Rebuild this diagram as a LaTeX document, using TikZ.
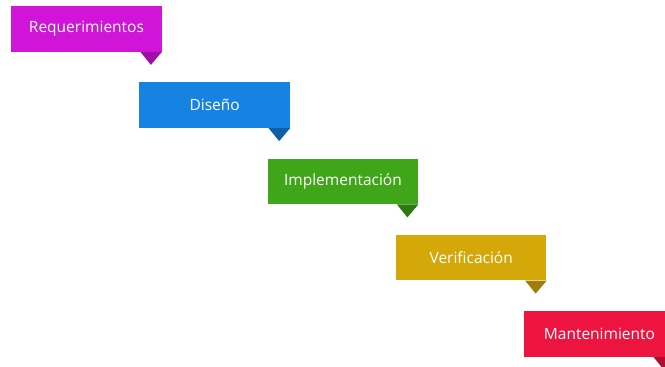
\documentclass[tikz,border=0pt]{standalone}
\usepackage{fontspec}
\setmainfont{Open Sans}
\definecolor{reqc}{RGB}{208,20,216}
\definecolor{reqd}{RGB}{160,14,168}
\definecolor{disc}{RGB}{22,130,226}
\definecolor{disd}{RGB}{16,94,168}
\definecolor{impc}{RGB}{63,165,25}
\definecolor{impd}{RGB}{44,122,16}
\definecolor{verc}{RGB}{213,168,10}
\definecolor{verd}{RGB}{160,124,8}
\definecolor{manc}{RGB}{238,20,64}
\definecolor{mand}{RGB}{176,14,46}
\tikzset{
  stage/.style={fill=#1, minimum width=150.5pt, minimum height=45.5pt,
    inner sep=0pt, text=white, font=\fontsize{15.5}{18}\selectfont, anchor=north west},
}
% a stage box with its pointer under the right-hand end
\newcommand{\stagebox}[5]{%
  \node[stage=#4] (#1) at (#2) {#3};
  \fill[#5] ([xshift=-21.5pt]#1.south east) -- (#1.south east)
    -- ([xshift=-11pt,yshift=-13pt]#1.south east) -- cycle;
}
\begin{document}
\begin{tikzpicture}[x=1pt,y=-1pt]
  \useasboundingbox (0,0) rectangle (665,367);
  \clip (0,0) rectangle (665,367);
  \stagebox{req}{11,6}{Requerimientos}{reqc}{reqd}
  \stagebox{dis}{139.25,82.25}{Diseño}{disc}{disd}
  \stagebox{imp}{267.5,158.5}{Implementación}{impc}{impd}
  \stagebox{ver}{395.75,234.75}{Verificación}{verc}{verd}
  \stagebox{man}{524,311}{Mantenimiento}{manc}{mand}
\end{tikzpicture}
\end{document}
